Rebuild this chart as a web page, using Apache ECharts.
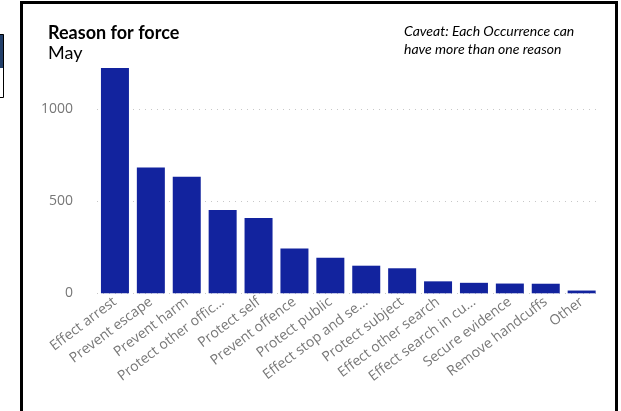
<!DOCTYPE html>
<html>
<head>
<meta charset="utf-8">
<script src="https://cdn.jsdelivr.net/npm/echarts@6/dist/echarts.min.js"></script>
<style>
html,body{margin:0;padding:0;background:#fff;}
#chart{width:621px;height:411px;}
</style>
</head>
<body>
<div id="chart"></div>
<script>
const categories = ["Effect arrest","Prevent escape","Prevent harm","Protect other offic...","Protect self","Prevent offence","Protect public","Effect stop and se...","Protect subject","Effect other search","Effect search in cu...","Secure evidence","Remove handcuffs","Other"];
const values = [1224, 684, 633, 453, 409, 243, 193, 150, 136, 65, 57, 53, 52, 15];
const yTicks = [0, 500, 1000];

const chart = echarts.init(document.getElementById('chart'), null, {renderer:'canvas'});
chart.setOption({
  animation:false,
  backgroundColor:'#fff',
  graphic:[
    {type:'rect', shape:{x:21.5, y:2.5, width:595, height:440}, style:{fill:'none', stroke:'#000', lineWidth:3}},
    {type:'rect', shape:{x:-2, y:34, width:5.5, height:34}, style:{fill:'#23406b', stroke:null}},
    {type:'rect', shape:{x:-2, y:34.5, width:5.5, height:63}, style:{fill:'none', stroke:'#000', lineWidth:1}},
    {type:'text', left:48, top:24, style:{text:'Reason for force', font:'bold 18px Lato', fill:'#000'}},
    {type:'text', left:48, top:44, style:{text:'May', font:'18px Lato', fill:'#000'}},
    {type:'text', left:404, top:22, style:{text:'Caveat: Each Occurrence can\nhave more than one reason', font:'italic 14px Lato', lineHeight:18, fill:'#000'}}
  ],
  grid:{left:97, right:21.4, top:109.3, bottom:117.7, containLabel:false},
  xAxis:{
    type:'category', data:categories,
    axisLine:{show:false}, axisTick:{show:false},
    axisLabel:{rotate:37, interval:0, margin:7, color:'#777', fontFamily:'Open Sans', fontSize:14}
  },
  yAxis:{
    type:'value', min:yTicks[0], max:yTicks[yTicks.length-1], interval:500,
    axisLine:{show:false}, axisTick:{show:false},
    axisLabel:{margin:24, color:'#777', fontFamily:'Open Sans', fontSize:14, formatter:function(v){return String(v);}},
    splitLine:{show:true, lineStyle:{color:'#c8c8c8', type:[1,5], width:1}}
  },
  series:[{
    type:'bar', data:values, barWidth:28, clip:false,
    itemStyle:{color:'#12239E'}
  }]
});
</script>
</body>
</html>
